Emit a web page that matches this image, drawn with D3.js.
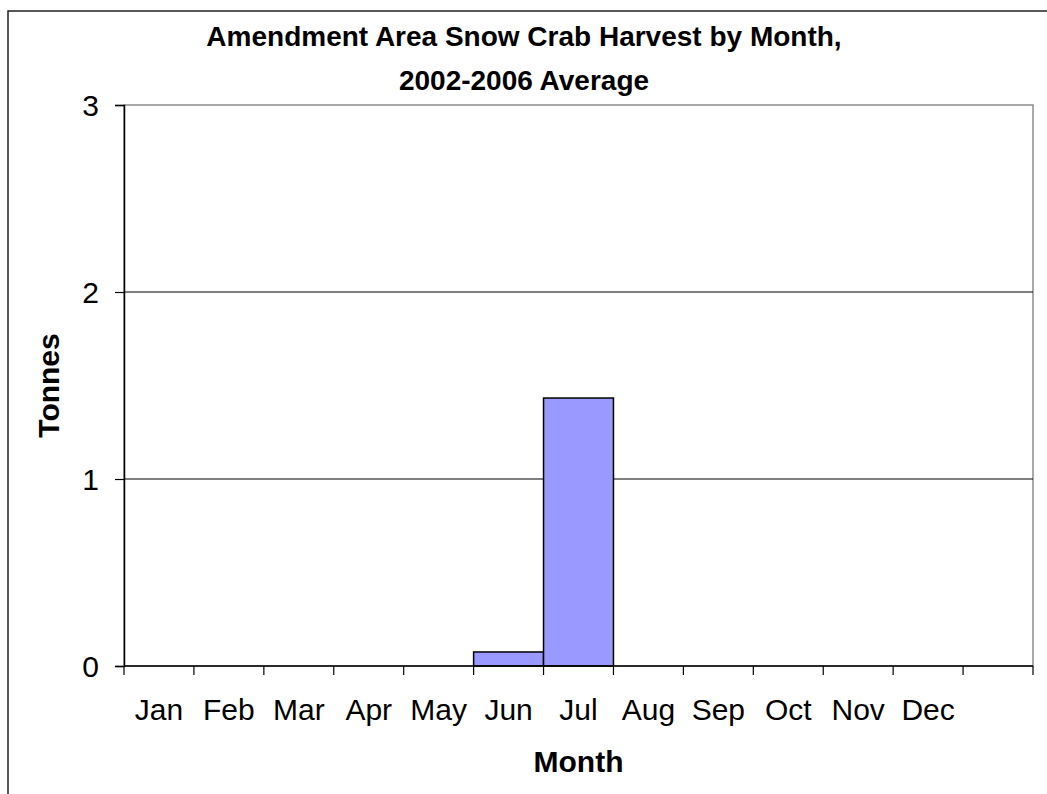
<!DOCTYPE html>
<html>
<head>
<meta charset="utf-8">
<script src="https://cdn.jsdelivr.net/npm/d3@7"></script>
<style>
  body { margin: 0; background: #fff; }
  text { font-family: "Liberation Sans", Arial, sans-serif; fill: #000; }
</style>
</head>
<body>
<div id="main"></div>
<script>
const months = ["Jan", "Feb", "Mar", "Apr", "May", "Jun", "Jul", "Aug", "Sep", "Oct", "Nov", "Dec"];
const tonnes = [0, 0, 0, 0, 0, 0.075, 1.433, 0, 0, 0, 0, 0];
const yTicks = [0, 1, 2, 3];
const titleLines = ["Amendment Area Snow Crab Harvest by Month,", "2002-2006 Average"];

const width = 1047;
const height = 794;
const plotLeft = 124, plotRight = 1033, plotTop = 105, plotBottom = 666;

const svg = d3.select("#main").append("svg").attr("width", width).attr("height", height);

// outer chart border (runs off the page at right and bottom)
svg.append("rect")
  .attr("x", 8).attr("y", 11)
  .attr("width", 1100).attr("height", 900)
  .attr("fill", "#fff").attr("stroke", "#222").attr("stroke-width", 1.5);

// 13 slots, last one empty
const slots = [...months, ""];
const x = d3.scaleBand().domain(slots).range([plotLeft, plotRight]).paddingInner(0).paddingOuter(0);
const y = d3.scaleLinear().domain([0, 3]).range([plotBottom, plotTop]);

// plot border (grey top/right)
svg.append("rect")
  .attr("x", plotLeft).attr("y", plotTop)
  .attr("width", plotRight - plotLeft).attr("height", plotBottom - plotTop)
  .attr("fill", "none").attr("stroke", "#8c8c8c").attr("stroke-width", 1.5);

// gridlines
svg.append("g")
  .selectAll("line")
  .data(yTicks.filter((d) => d > 0 && d < 3))
  .enter()
  .append("line")
  .attr("x1", plotLeft).attr("x2", plotRight)
  .attr("y1", (d) => y(d)).attr("y2", (d) => y(d))
  .attr("stroke", "#000").attr("stroke-width", 1);

// bars
svg.append("g")
  .selectAll("rect")
  .data(months.map((m, i) => [m, tonnes[i]]).filter((d) => d[1] > 0))
  .enter()
  .append("rect")
  .attr("x", (d) => x(d[0]))
  .attr("y", (d) => y(d[1]))
  .attr("width", x.bandwidth())
  .attr("height", (d) => y(0) - y(d[1]))
  .attr("fill", "#9999ff")
  .attr("stroke", "#000")
  .attr("stroke-width", 1.5);

// y axis
const yAxis = svg.append("g")
  .attr("transform", `translate(${plotLeft},0)`)
  .call(d3.axisLeft(y).tickValues(yTicks).tickFormat(d3.format("d")).tickSize(9).tickPadding(16));
yAxis.select(".domain").attr("stroke", "#000").attr("stroke-width", 1.5);
yAxis.selectAll(".tick line").attr("stroke", "#000").attr("stroke-width", 1.2);
yAxis.selectAll(".tick text")
  .style("font-family", '"Liberation Sans", Arial, sans-serif')
  .style("font-size", "30px")
  .attr("dy", "0.36em");

// x axis: boundary ticks + centered labels
const xAxis = svg.append("g").attr("transform", `translate(0,${plotBottom})`);
xAxis.append("line")
  .attr("x1", plotLeft).attr("x2", plotRight)
  .attr("stroke", "#000").attr("stroke-width", 1.5);
const bounds = [...slots.map((s) => x(s)), plotRight];
xAxis.selectAll(".bt")
  .data(bounds)
  .enter()
  .append("line")
  .attr("class", "bt")
  .attr("x1", (d) => d).attr("x2", (d) => d)
  .attr("y1", 0).attr("y2", 9)
  .attr("stroke", "#000").attr("stroke-width", 1.2);
xAxis.selectAll(".lbl")
  .data(months)
  .enter()
  .append("text")
  .attr("class", "lbl")
  .attr("x", (d) => x(d) + x.bandwidth() / 2)
  .attr("y", 54)
  .attr("text-anchor", "middle")
  .style("font-size", "30px")
  .text((d) => d);

// title
svg.append("g")
  .selectAll("text")
  .data(titleLines)
  .enter()
  .append("text")
  .attr("x", 524)
  .attr("y", (d, i) => 46 + i * 44)
  .attr("text-anchor", "middle")
  .style("font-size", "28px")
  .style("font-weight", "bold")
  .text((d) => d);

// axis titles
svg.append("text")
  .attr("x", (plotLeft + plotRight) / 2)
  .attr("y", 772)
  .attr("text-anchor", "middle")
  .style("font-size", "30px")
  .style("font-weight", "bold")
  .text("Month");

svg.append("text")
  .attr("transform", `translate(59,${(plotTop + plotBottom) / 2}) rotate(-90)`)
  .attr("text-anchor", "middle")
  .style("font-size", "30px")
  .style("font-weight", "bold")
  .text("Tonnes");
</script>
</body>
</html>
